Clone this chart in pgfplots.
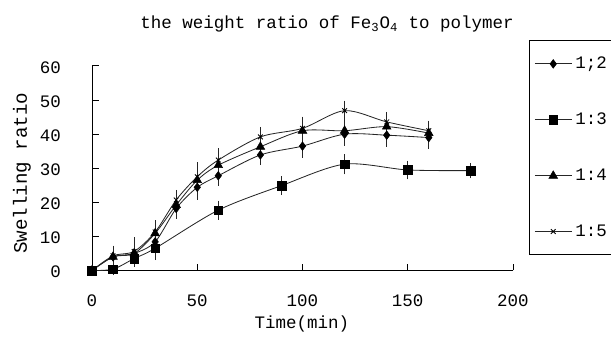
\documentclass[border=0pt]{standalone}
\usepackage{pgfplots}
\pgfplotsset{compat=1.18}
\usepackage{fontspec}
\setmainfont{Liberation Mono}
\begin{document}
\fontsize{10.5}{12}\selectfont
\begin{tikzpicture}
\useasboundingbox (0,0) rectangle (366.6pt,205.2pt);
\clip (0,0) rectangle (366.6pt,205.2pt);
\begin{axis}[
  at={(55.2pt,42.9pt)}, anchor=south west,
  scale only axis, width=252.6pt, height=122.7pt,
  xmin=0, xmax=200, ymin=0, ymax=60,
  axis x line=bottom, axis y line=left,
  axis line style={-, line width=0.6pt, black},
  tick align=inside,
  xtick={0,50,...,200}, ytick={0,10,...,60},
  major tick length=4pt,
  tick style={line width=0.6pt, black},
  /pgf/number format/assume math mode=true,
  yticklabel shift=15pt,
  yticklabel style={yshift=-1pt},
  xticklabel shift=11pt,
  clip=false,
  error bars/error bar style={line width=0.5pt, black!85, solid},
  error bars/error mark options={black!85, mark size=3pt, line width=0.5pt},
  legend style={at={(1.038,1.127)}, anchor=north west, draw=black, line width=0.6pt,
     inner xsep=3pt, inner ysep=7.7pt, row sep=21pt, font=\fontsize{10.5}{12}\selectfont},
  legend cell align=left,
  legend image code/.code={\draw[mark repeat=2,mark phase=2,#1] plot coordinates {(0pt,0pt) (11pt,0pt) (22pt,0pt)};},
]
\addplot[black!85, line width=0.5pt, smooth, tension=0.5, mark=diamond*, mark size=2.6pt, mark options={solid, fill=black, draw=black, line width=0.3pt},
  error bars/.cd, y dir=both, y explicit] table[x=x, y=y, y error=e] {
x y e
0 0 0
10 4.0 1.2
20 5.0 1.5
30 8.4 1.5
40 18.2 1.5
50 24.4 2.2
60 27.8 1.5
80 33.9 1.5
100 36.5 2.0
120 40.0 2.0
140 39.7 2.0
160 39.0 1.8
};
\addplot[black!85, line width=0.5pt, smooth, tension=0.5, mark=square*, mark size=2.6pt, mark options={solid, fill=black, draw=black, line width=0.3pt},
  error bars/.cd, y dir=both, y explicit] table[x=x, y=y, y error=e] {
x y e
0 0 0
10 0.4 0.3
20 3.5 1.0
30 6.5 2.0
60 17.7 1.3
90 24.9 1.3
120 31.2 1.5
150 29.5 1.3
180 29.3 0.8
};
\addplot[black!85, line width=0.5pt, smooth, tension=0.5, mark=triangle*, mark size=3pt, mark options={solid, fill=black, draw=black, line width=0.3pt},
  error bars/.cd, y dir=both, y explicit] table[x=x, y=y, y error=e] {
x y e
0 0 0
10 4.0 1.5
20 5.0 1.5
30 10.9 2.0
40 19.2 1.5
50 26.5 2.0
60 30.9 1.8
80 36.3 1.8
100 41.0 1.8
120 41.0 2.0
140 42.2 2.0
160 40.3 1.8
};
\addplot[black!85, line width=0.5pt, smooth, tension=0.5, mark=x, mark size=2pt, mark options={solid, black, line width=0.5pt},
  error bars/.cd, y dir=both, y explicit] table[x=x, y=y, y error=e] {
x y e
0 0 0
10 4.3 1.5
20 5.6 2.7
30 11.3 2.0
40 20.7 1.5
50 27.5 2.8
60 32.4 2.0
80 39.2 1.5
100 41.7 2.0
120 46.9 1.5
140 43.6 1.5
160 41.0 1.5
};
\legend{\makebox[40pt][l]{1;2},\makebox[40pt][l]{1:3},\makebox[40pt][l]{1:4},\makebox[40pt][l]{1:5}}
\end{axis}
\node at (196.2pt,190.8pt) {the weight ratio of Fe\textsubscript{3}O\textsubscript{4} to polymer};
\node at (181.2pt,10.8pt) {Time(min)};
\node[rotate=90] at (13.2pt,101.4pt) {\fontsize{11.5}{13}\selectfont Swelling ratio};
\end{tikzpicture}
\end{document}
